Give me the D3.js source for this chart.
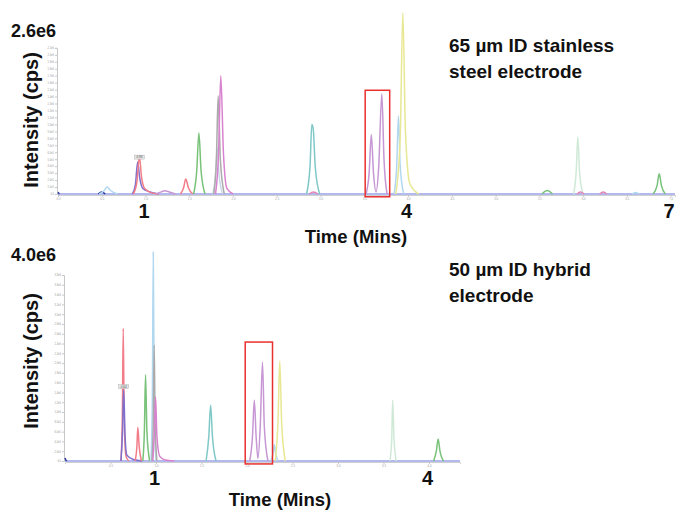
<!DOCTYPE html>
<html>
<head>
<meta charset="utf-8">
<script src="https://cdn.jsdelivr.net/npm/d3@7"></script>
<style>
  html, body { margin: 0; padding: 0; background: #fff; }
  svg { display: block; font-family: "Liberation Sans", Arial, sans-serif; }
</style>
</head>
<body>
<svg id="chart" width="678" height="512"></svg>
<script>
// time in minutes, intensity in millions of cps

// --- top run : 65 um stainless steel electrode
const topTraceKeys = ['blue', 'blue', 'sky', 'violet', 'red', 'purple', 'red', 'green', 'mist', 'gray', 'magenta',
    'teal', 'pink', 'purple', 'sky', 'yellow', 'green', 'mint', 'pink', 'pink', 'sky', 'green'];
const topTracePoints = [
    [[0, 0.025], [0.008, 0.01], [0.016, 0]],
    [[0.46, 0], [0.50, 0.03], [0.54, 0]],
    [[0.47, 0], [0.53, 0.05], [0.56, 0.10], [0.60, 0.05], [0.68, 0]],
    [[0.85, 0], [0.885, 0.14], [0.91, 0.46], [0.935, 0.22], [0.97, 0.08], [1.05, 0.03], [1.15, 0]],
    [[0.86, 0], [0.90, 0.16], [0.93, 0.53], [0.955, 0.24], [0.99, 0.08], [1.06, 0.02], [1.15, 0]],
    [[1.12, 0], [1.18, 0.03], [1.22, 0.045], [1.27, 0.03], [1.34, 0]],
    [[1.40, 0], [1.435, 0.09], [1.46, 0.215], [1.49, 0.09], [1.54, 0]],
    [[1.55, 0], [1.585, 0.33], [1.61, 0.876], [1.635, 0.33], [1.68, 0]],
    [[1.77, 0], [1.80, 0.28], [1.82, 0.66], [1.84, 0.28], [1.88, 0]],
    [[1.78, 0], [1.81, 0.5], [1.83, 1.41], [1.855, 0.5], [1.90, 0]],
    [[1.80, 0], [1.835, 0.6], [1.86, 1.70], [1.89, 0.6], [1.93, 0.08], [2.00, 0]],
    [[2.84, 0], [2.88, 0.4], [2.90, 1.0], [2.915, 0.95], [2.94, 0.38], [2.99, 0]],
    [[2.87, 0], [2.92, 0.03], [2.97, 0]],
    [[3.52, 0], [3.555, 0.3], [3.58, 0.85], [3.605, 0.3], [3.635, 0.03], [3.665, 0.4], [3.70, 1.44], [3.725, 0.5], [3.76, 0]],
    [[3.84, 0], [3.87, 0.4], [3.89, 1.12], [3.91, 0.4], [3.95, 0]],
    [[3.86, 0], [3.91, 0.8], [3.94, 2.6], [3.97, 0.9], [4.02, 0.15], [4.12, 0]],
    [[5.53, 0], [5.59, 0.05], [5.65, 0]],
    [[5.89, 0], [5.92, 0.3], [5.94, 0.82], [5.96, 0.3], [6.00, 0]],
    [[5.93, 0], [5.97, 0.03], [6.01, 0]],
    [[6.19, 0], [6.23, 0.03], [6.27, 0]],
    [[6.56, 0], [6.60, 0.02], [6.64, 0]],
    [[6.80, 0], [6.845, 0.12], [6.87, 0.29], [6.895, 0.12], [6.94, 0]]
];
const topXTicks = [0, 0.5, 1, 1.5, 2, 2.5, 3, 3.5, 4, 4.5, 5, 5.5, 6, 6.5, 7];
const topYTicks = [0, 0.1, 0.2, 0.3, 0.4, 0.5, 0.6, 0.7, 0.8, 0.9, 1.0, 1.1, 1.2, 1.3, 1.4, 1.5, 1.6, 1.7, 1.8, 1.9, 2.0, 2.1];
const topBigTicks = [1, 4, 7];
const topBox = [3.51, 3.79, -0.04, 1.49];   // t0, t1, i0, i1
const topMarker = [0.93, 0.53, '0.93'];

// --- bottom run : 50 um hybrid electrode
const bottomTraceKeys = ['blue', 'red', 'violet', 'red', 'green', 'sky', 'gray', 'magenta', 'teal',
    'purple', 'sky', 'yellow', 'mint', 'green'];
const bottomTracePoints = [
    [[0, 0.06], [0.01, 0.02], [0.02, 0]],
    [[0.615, 0], [0.63, 0.9], [0.64, 2.71], [0.65, 0.9], [0.67, 0.1], [0.70, 0]],
    [[0.615, 0], [0.632, 0.6], [0.645, 1.45], [0.66, 0.5], [0.68, 0.12], [0.75, 0.03], [0.85, 0]],
    [[0.77, 0], [0.79, 0.3], [0.80, 0.69], [0.815, 0.3], [0.84, 0]],
    [[0.855, 0], [0.872, 0.6], [0.885, 1.76], [0.90, 0.6], [0.93, 0]],
    [[0.945, 0], [0.96, 1.4], [0.97, 4.27], [0.98, 1.4], [1.00, 0]],
    [[0.955, 0], [0.97, 0.8], [0.98, 2.37], [0.99, 0.8], [1.01, 0]],
    [[0.965, 0], [0.98, 0.5], [0.995, 1.31], [1.01, 0.5], [1.04, 0.1], [1.10, 0.02], [1.20, 0]],
    [[1.55, 0], [1.58, 0.5], [1.60, 1.14], [1.62, 0.5], [1.66, 0]],
    [[2.03, 0], [2.06, 0.5], [2.08, 1.24], [2.10, 0.5], [2.12, 0.05], [2.145, 0.7], [2.17, 2.02], [2.19, 0.7], [2.23, 0]],
    [[2.26, 0], [2.285, 0.15], [2.30, 0.33], [2.315, 0.15], [2.34, 0]],
    [[2.31, 0], [2.34, 0.8], [2.36, 2.04], [2.38, 0.8], [2.42, 0]],
    [[3.57, 0], [3.59, 0.45], [3.60, 1.24], [3.615, 0.45], [3.64, 0]],
    [[4.05, 0], [4.08, 0.2], [4.10, 0.45], [4.12, 0.2], [4.16, 0]]
];
const bottomXTicks = [0.5, 1, 1.5, 2, 2.5, 3, 3.5, 4];
const bottomYTicks = [0, 0.2, 0.4, 0.6, 0.8, 1.0, 1.2, 1.4, 1.6, 1.8, 2.0, 2.2, 2.4, 2.6, 2.8, 3.0, 3.2, 3.4, 3.6, 3.8];
const bottomBigTicks = [1, 4];
const bottomBox = [1.98, 2.28, -0.06, 2.43];
const bottomMarker = [0.645, 1.52, '0.64'];

const palette = {
    blue: '#2a3a9c', sky: '#b2d8f0', violet: '#7f70cc', red: '#f27d89', purple: '#c697d4',
    green: '#79c279', mist: '#cbd9e8', gray: '#ababab', magenta: '#d883cf', teal: '#80c8c8',
    pink: '#e387b6', yellow: '#e8e894', mint: '#d0e9d7'
};

const svg = d3.select('#chart');
svg.append('rect').attr('width', 678).attr('height', 512).attr('fill', '#fff');

function drawPanel(p) {
    const x = d3.scaleLinear().domain(p.tDomain).range(p.xRange);
    const y = d3.scaleLinear().domain(p.iDomain).range(p.yRange);
    const g = svg.append('g');

    // y axis of the instrument software, tiny labels
    const yTop = p.yTicks[p.yTicks.length - 1];
    const yAxisScale = y.copy().domain([0, yTop]).range([y(0), y(yTop)]);
    const fmt = v => v === 0 ? '0.0' : d3.format('.1e')(v * 1e6).replace('+', '');
    const ya = g.append('g')
        .attr('transform', `translate(${p.xRange[0] - 1},0)`)
        .call(d3.axisLeft(yAxisScale).tickValues(p.yTicks).tickSize(2).tickPadding(1).tickFormat(fmt));
    ya.select('.domain').attr('stroke', '#c8c8c8');
    ya.selectAll('.tick line').attr('stroke', '#c8c8c8');
    ya.selectAll('.tick text').attr('font-size', 2.6).attr('fill', '#9a9a9a');

    const xa = g.append('g')
        .attr('transform', `translate(0,${y(0) + 1})`)
        .call(d3.axisBottom(x).tickValues(p.xTicks).tickSize(2).tickPadding(1).tickFormat(d3.format('.1f')));
    xa.select('.domain').attr('stroke', '#d0d0d0');
    xa.selectAll('.tick line').attr('stroke', '#c8c8c8');
    xa.selectAll('.tick text').attr('font-size', 2.8).attr('fill', '#9a9a9a');

    // lavender baseline
    g.append('line')
        .attr('x1', x(p.tDomain[0])).attr('x2', x(p.tDomain[1]))
        .attr('y1', y(0)).attr('y2', y(0))
        .attr('stroke', '#9aa2e8').attr('stroke-width', 1.4);

    const line = d3.line().x(d => x(d[0])).y(d => y(d[1])).curve(d3.curveMonotoneX);
    g.selectAll('path.trace')
        .data(p.points)
        .join('path')
        .attr('class', 'trace')
        .attr('d', line)
        .attr('fill', 'none')
        .attr('stroke', (d, i) => palette[p.keys[i]])
        .attr('stroke-width', 1.5)
        .attr('stroke-linejoin', 'round');

    // peak label tag
    const mk = g.append('g').attr('transform', `translate(${x(p.marker[0])},${y(p.marker[1])})`);
    mk.append('rect').attr('x', -5).attr('y', -2).attr('width', 10).attr('height', 4)
        .attr('fill', '#e4e4e4').attr('stroke', '#aaa').attr('stroke-width', 0.4);
    mk.append('text').attr('text-anchor', 'middle').attr('y', 1.2)
        .attr('font-size', 3).attr('fill', '#555').text(p.marker[2]);

    // highlighted peak pair
    g.append('rect')
        .attr('x', x(p.box[0])).attr('y', y(p.box[3]))
        .attr('width', x(p.box[1]) - x(p.box[0]))
        .attr('height', y(p.box[2]) - y(p.box[3]))
        .attr('fill', 'none').attr('stroke', '#e8302f').attr('stroke-width', 1.5);

    // large overlaid time labels
    g.selectAll('text.big')
        .data(p.bigTicks)
        .join('text')
        .attr('class', 'big')
        .attr('x', d => x(d) - 1.5)
        .attr('y', p.bigY)
        .attr('text-anchor', 'middle')
        .attr('font-size', 20).attr('font-weight', 'bold').attr('fill', '#111')
        .text(d => d);

    g.append('text')
        .attr('x', p.timeX).attr('y', p.timeY)
        .attr('text-anchor', 'middle')
        .attr('font-size', 18.5).attr('font-weight', 'bold').attr('fill', '#111')
        .text('Time (Mins)');

    g.append('text')
        .attr('transform', `translate(${p.intX},${p.intY}) rotate(-90)`)
        .attr('text-anchor', 'middle')
        .attr('font-size', 20).attr('font-weight', 'bold').attr('fill', '#111')
        .text('Intensity (cps)');

    g.append('text')
        .attr('x', 11).attr('y', p.maxY)
        .attr('font-size', 18).attr('font-weight', 'bold').attr('fill', '#111')
        .text(p.maxLabel);

    g.selectAll('text.note')
        .data(p.note)
        .join('text')
        .attr('class', 'note')
        .attr('x', 449)
        .attr('y', (d, i) => p.noteY + i * 26)
        .attr('font-size', 19).attr('font-weight', 'bold').attr('fill', '#111')
        .text(d => d);
}

drawPanel({
    keys: topTraceKeys, points: topTracePoints, xTicks: topXTicks, yTicks: topYTicks,
    bigTicks: topBigTicks, box: topBox, marker: topMarker,
    tDomain: [0, 7.05], xRange: [58, 675], iDomain: [0, 2.6], yRange: [194, 13],
    bigY: 218, timeX: 356, timeY: 243, intX: 38, intY: 120, maxY: 37, maxLabel: '2.6e6',
    note: ['65 \u00b5m ID stainless', 'steel electrode'], noteY: 52
});

drawPanel({
    keys: bottomTraceKeys, points: bottomTracePoints, xTicks: bottomXTicks, yTicks: bottomYTicks,
    bigTicks: bottomBigTicks, box: bottomBox, marker: bottomMarker,
    tDomain: [0, 4.34], xRange: [65, 460], iDomain: [0, 4.27], yRange: [461, 252],
    bigY: 485, timeX: 280, timeY: 506, intX: 38, intY: 361, maxY: 261, maxLabel: '4.0e6',
    note: ['50 \u00b5m ID hybrid', 'electrode'], noteY: 276
});
</script>
</body>
</html>
